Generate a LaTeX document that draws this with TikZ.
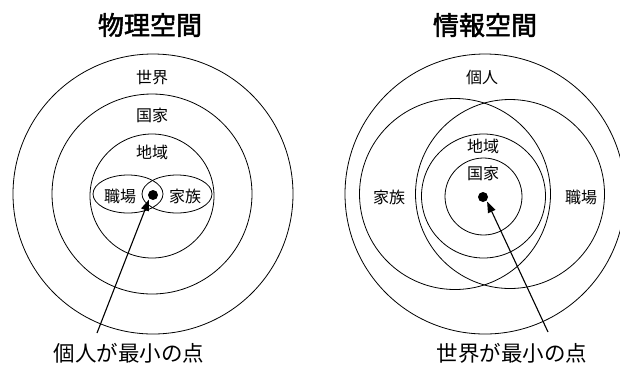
\documentclass[tikz,border=0pt]{standalone}
\usepackage{fontspec}
\setmainfont{Noto Sans CJK JP}
\newfontfamily\titlefont{Noto Sans CJK JP}[FakeBold=2]
\usetikzlibrary{arrows.meta,shapes.geometric}
\tikzset{
  ring/.style={draw, circle, line width=0.8pt, inner sep=0pt},
  oval/.style={draw, ellipse, line width=0.8pt, inner sep=0pt},
  lbl/.style={font=\fontsize{16}{16}\selectfont, inner sep=0pt},
  bigl/.style={font=\fontsize{21.5}{21.5}\selectfont, inner sep=0pt},
  ttl/.style={font=\titlefont\fontsize{26}{26}\selectfont, inner sep=0pt},
  dotn/.style={fill, circle, minimum size=10pt, inner sep=0pt},
  ptr/.style={-{Triangle[length=11pt,width=8pt]}, line width=1.1pt, shorten >=1pt}
}
\begin{document}
\begin{tikzpicture}[x=1pt,y=-1pt]
\useasboundingbox (0,0) rectangle (620,365);
% left panel
\node[ttl] (t1) at (150,25) {物理空間};
\node[ring, minimum size=280pt] (w1) at (153,194) {};
\node[ring, minimum size=200pt] (c1) at (152,194) {};
\node[ring, minimum size=124pt] (r1) at (152,196) {};
\node[oval, minimum width=70pt, minimum height=38pt] (e1) at (128,194) {};
\node[oval, minimum width=70pt, minimum height=38pt] (e2) at (177,194) {};
\node[lbl] (lw1) at (152,78) {世界};
\node[lbl] (lc1) at (152,115) {国家};
\node[lbl] (lr1) at (152,152) {地域};
\node[lbl] (lj1) at (120,196) {職場};
\node[lbl] (lf1) at (185,196) {家族};
\node[dotn] (d1) at (153,195) {};
\coordinate (s1) at (97,333);
\draw[ptr] (s1) -- (d1.south west);
\node[bigl] (b1) at (129,353) {個人が最小の点};
% right panel
\node[ttl] (t2) at (485,25) {情報空間};
\node[ring, minimum size=280pt] (w2) at (485,194) {};
\node[ring, minimum size=191pt] (f2) at (455,194) {};
\node[ring, minimum size=189pt] (j2) at (510,194) {};
\node[ring, minimum size=124pt] (r2) at (483.5,196) {};
\node[ring, minimum size=77pt] (c2) at (483.5,196.5) {};
\node[lbl] (lw2) at (482,77) {個人};
\node[lbl] (lr2) at (483,146) {地域};
\node[lbl] (lc2) at (483,173) {国家};
\node[lbl] (lf2) at (389,197) {家族};
\node[lbl] (lj2) at (581,197) {職場};
\node[dotn] (d2) at (483,197) {};
\coordinate (s2) at (548,332);
\draw[ptr] (s2) -- (d2.south east);
\node[bigl] (b2) at (512,353) {世界が最小の点};
\end{tikzpicture}
\end{document}
